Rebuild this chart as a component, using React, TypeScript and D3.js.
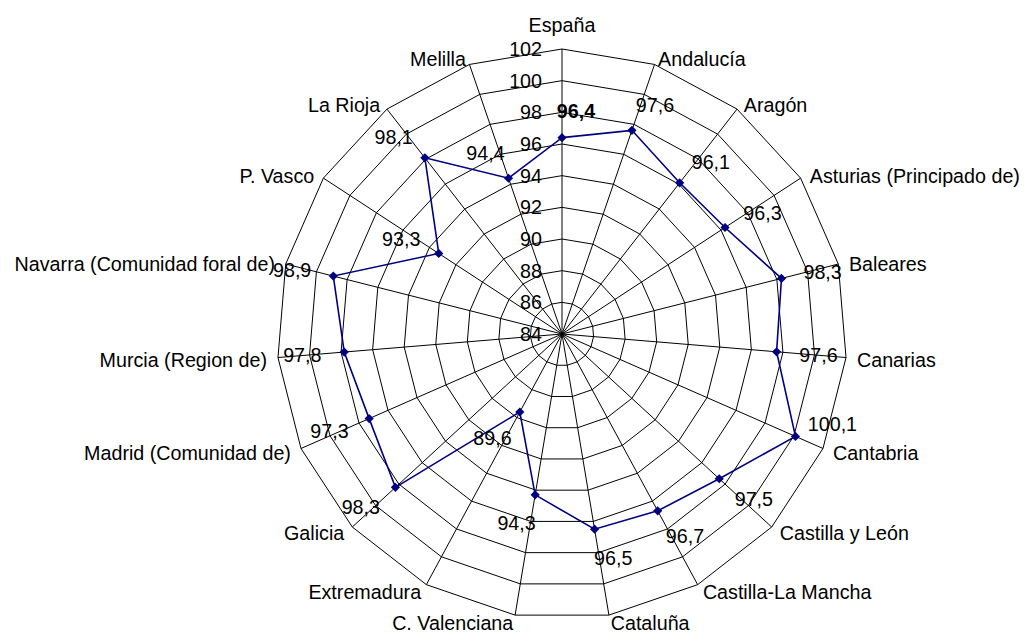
import React from "react";
import * as d3 from "d3";

const categories = [
  "España",
  "Andalucía",
  "Aragón",
  "Asturias (Principado de)",
  "Baleares",
  "Canarias",
  "Cantabria",
  "Castilla y León",
  "Castilla-La Mancha",
  "Cataluña",
  "C. Valenciana",
  "Extremadura",
  "Galicia",
  "Madrid (Comunidad de)",
  "Murcia (Region de)",
  "Navarra (Comunidad foral de)",
  "P. Vasco",
  "La Rioja",
  "Melilla",
];

const values = [
  96.4, 97.6, 96.1, 96.3, 98.3, 97.6, 100.1, 97.5, 96.7, 96.5, 94.3, 89.6,
  98.3, 97.3, 97.8, 98.9, 93.3, 98.1, 94.4,
];

const ticks = [84, 86, 88, 90, 92, 94, 96, 98, 100, 102];

const W = 1024;
const H = 632;
const CX = 562;
const CY = 334;
const R = 285;
const FONT = "'Liberation Sans', Arial, sans-serif";
const FS = 19.7;
const NAVY = "#000080";

export default function App() {
  const n = categories.length;
  const r = d3.scaleLinear().domain([84, 102]).range([0, R]);
  const angle = (i: number) => (i * 2 * Math.PI) / n;
  const pt = (i: number, v: number): [number, number] => {
    const a = angle(i);
    const rr = r(v);
    return [CX + rr * Math.sin(a), CY - rr * Math.cos(a)];
  };

  const ringPath = (v: number) =>
    d3.line()(d3.range(n).map((i) => pt(i, v))) + "Z";

  const seriesPts = values.map((v, i) => pt(i, v));
  const seriesPath = d3.line()(seriesPts) + "Z";
  const fmt = (v: number) => v.toFixed(1).replace(".", ",");

  return (
    <svg
      width={W}
      height={H}
      style={{ position: "absolute", left: 0, top: 0, background: "#fff" }}
      fontFamily={FONT}
    >
      {/* rings */}
      {ticks.slice(1).map((t) => (
        <path key={t} d={ringPath(t)} fill="none" stroke="#000" strokeWidth={1} />
      ))}
      {/* spokes */}
      {d3.range(n).map((i) => {
        const [x, y] = pt(i, 102);
        return <line key={i} x1={CX} y1={CY} x2={x} y2={y} stroke="#000" strokeWidth={1} />;
      })}
      {/* tick labels */}
      {ticks.map((t) => (
        <text
          key={t}
          x={CX - 20}
          y={CY - r(t)}
          dy="0.35em"
          textAnchor="end"
          fontSize={FS}
          fill="#000"
        >
          {t}
        </text>
      ))}
      {/* category labels */}
      {categories.map((c, i) => {
        const a = angle(i);
        const [x, y] = pt(i, 102);
        const s = Math.sin(a);
        const co = Math.cos(a);
        if (Math.abs(s) < 0.01) {
          return (
            <text key={c} x={x} y={y - 24} dy="0.35em" textAnchor="middle" fontSize={FS}>
              {c}
            </text>
          );
        }
        return (
          <text
            key={c}
            x={x + 11 * s}
            y={y + 1.5 - 7 * co}
            dy="0.35em"
            textAnchor={s > 0 ? "start" : "end"}
            fontSize={FS}
          >
            {c}
          </text>
        );
      })}
      {/* series */}
      <path d={seriesPath} fill="none" stroke={NAVY} strokeWidth={1.6} />
      {seriesPts.map(([x, y], i) => (
        <path
          key={i}
          d={`M${x},${y - 4.6}L${x + 4.6},${y}L${x},${y + 4.6}L${x - 4.6},${y}Z`}
          fill={NAVY}
        />
      ))}
      {/* value labels */}
      {values.map((v, i) => {
        const a = angle(i);
        const s = Math.sin(a);
        const co = Math.cos(a);
        const [x, y] = seriesPts[i];
        const sg = s >= -0.001 ? 1 : -1;
        const nearOuter = r(v) > 0.88 * R;
        const lx = nearOuter ? x + sg * 37 : x + sg * (14 + 28 * Math.abs(s));
        const ly = nearOuter ? y - 12 : y + 1 - 28 * co;
        return (
          <text
            key={i}
            x={lx}
            y={ly}
            dy="0.35em"
            textAnchor="middle"
            fontSize={FS}
            fontWeight={i === 0 ? "bold" : "normal"}
          >
            {fmt(v)}
          </text>
        );
      })}
    </svg>
  );
}
